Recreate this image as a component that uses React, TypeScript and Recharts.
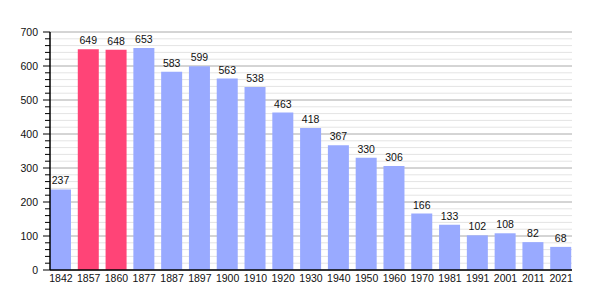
import React from "react";
import { BarChart, Bar, XAxis, YAxis, CartesianGrid, LabelList, Cell } from "recharts";

const years = ["1842","1857","1860","1877","1887","1897","1900","1910","1920","1930","1940","1950","1960","1970","1981","1991","2001","2011","2021"];
const population = [237,649,648,653,583,599,563,538,463,418,367,330,306,166,133,102,108,82,68];
const highlighted = ["1857","1860"];
const yTicks = [0,20,40,60,80,100,120,140,160,180,200,220,240,260,280,300,320,340,360,380,400,420,440,460,480,500,520,540,560,580,600,620,640,660,680,700];

const BLUE = "#99aaff";
const PINK = "#ff4477";
const FONT = "'Liberation Sans', Arial, sans-serif";
const FS = 10.5;

const data = years.map((y, i) => ({ year: y, value: population[i] }));

const YTick = (props: any) => {
  const { x, y, payload } = props;
  const major = payload.value % 100 === 0;
  return (
    <g>
      <line x1={x - (major ? 7 : 5)} x2={x} y1={y} y2={y} stroke="#000" strokeWidth={1} />
      {major && (
        <text x={x - 12} y={y} dy={3.8} textAnchor="end" fontSize={FS} fontFamily={FONT} fill="#111">
          {payload.value}
        </text>
      )}
    </g>
  );
};

const XTick = (props: any) => {
  const { x, payload } = props;
  return (
    <text x={x} y={270} dy={12} textAnchor="middle" fontSize={FS} fontFamily={FONT} fill="#111">
      {payload.value}
    </text>
  );
};

const GridLine = (props: any) => {
  const { x1, x2, y1, y2, index } = props;
  const major = index % 5 === 0;
  return <line x1={x1} x2={x2} y1={y1} y2={y2} stroke={major ? "#aaaaaa" : "#e4e4e4"} strokeWidth={1} />;
};

export default function App() {
  return (
    <div style={{ position: "absolute", left: 0, top: 0, background: "#fff" }}>
      <BarChart width={600} height={300} data={data} margin={{ top: 32, right: 28, left: 0, bottom: 0 }}>
        <CartesianGrid vertical={false} horizontal={GridLine} />
        <XAxis
          dataKey="year"
          height={30}
          tickLine={false}
          tickSize={0}
          axisLine={{ stroke: "#000", strokeWidth: 1.5 }}
          tick={XTick}
          padding={{ left: -3, right: -3 }}
          interval={0}
        />
        <YAxis
          width={50}
          domain={[0, 700]}
          ticks={yTicks}
          interval={0}
          tickLine={false}
          tickSize={0}
          tickMargin={0}
          axisLine={{ stroke: "#000", strokeWidth: 1.5 }}
          tick={YTick}
        />
        <Bar dataKey="value" barSize={21} isAnimationActive={false}>
          {data.map((d) => (
            <Cell key={d.year} fill={highlighted.includes(d.year) ? PINK : BLUE} />
          ))}
          <LabelList dataKey="value" position="top" offset={5} fontSize={FS} fontFamily={FONT} fill="#111" />
        </Bar>
      </BarChart>
    </div>
  );
}
